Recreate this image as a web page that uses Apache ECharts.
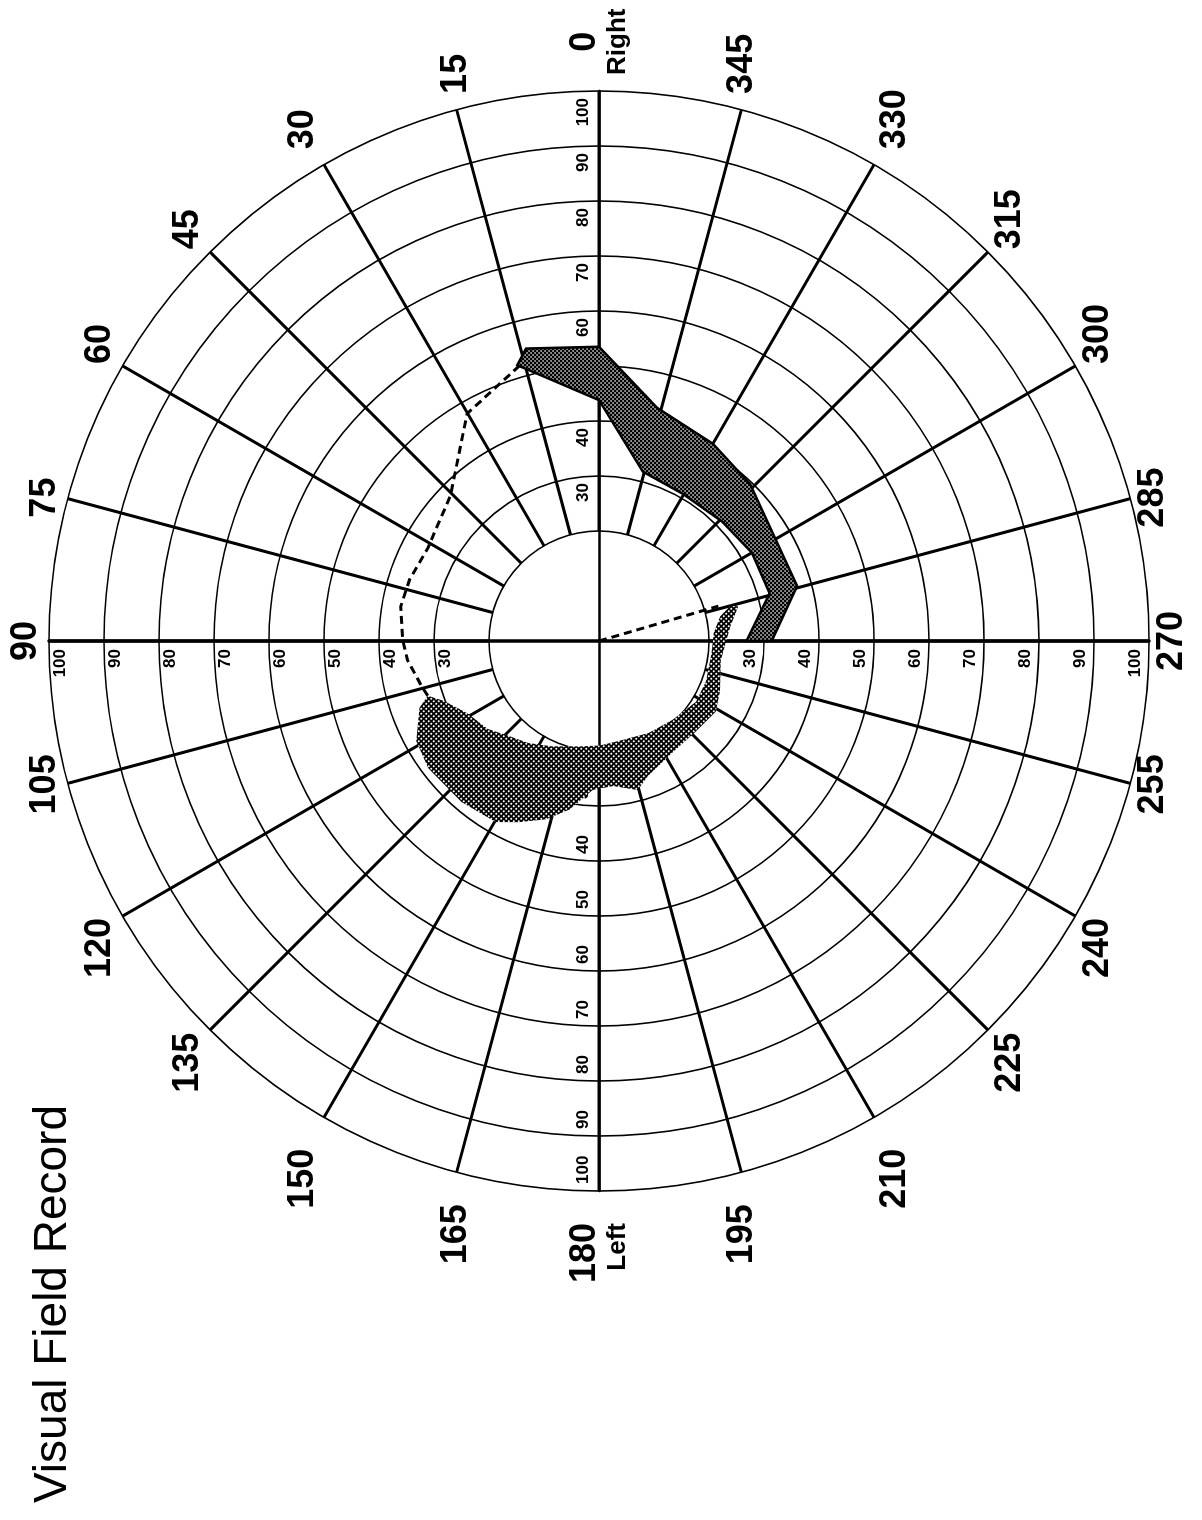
<!DOCTYPE html>
<html>
<head>
<meta charset="utf-8">
<title>Visual Field Record</title>
<script src="https://cdn.jsdelivr.net/npm/echarts@6/dist/echarts.min.js"></script>
<style>
html, body { margin: 0; padding: 0; background: #fff; overflow: hidden; width: 1202px; height: 1520px; }
#chart { position: absolute; left: 0; top: 0; width: 1520px; height: 1202px;
  transform-origin: 0 0; transform: translate(0px, 1520px) rotate(-90deg); }
</style>
</head>
<body>
<div id="chart"></div>
<script>
// ---------------- data ----------------
const titleText = 'Visual Field Record';
// meridians (degrees) and their labels
const angleTicks = [0, 15, 30, 45, 60, 75, 90, 105, 120, 135, 150, 165, 180, 195, 210, 225, 240, 255, 270, 285, 300, 315, 330, 345];
const sideAngles = [0, 180];
const sideNames = ['Right', 'Left'];
// eccentricity rings and labelled rings
const ringValues = [20, 30, 40, 50, 60, 70, 80, 90, 100];
const ringLabels = ['30', '40', '50', '60', '70', '80', '90', '100'];
// directions along which the ring values are printed
const ringLabelAngles = [0, 90, 180, 270];

// points are [angle (deg), eccentricity]
const darkBandOuter = [[14, 54.8], [0, 53.5], [346, 43.7], [330, 41.4], [316, 39.6], [285.5, 37.4], [270, 31.4]];
const darkBandInner = [[270, 26.8], [285.6, 32.2], [300, 32.1], [314, 31.2], [330.5, 30.8], [345.5, 31.8], [0, 43.8], [15, 51.2], [16.5, 52.3]];

const lightBandOuter = [[284.0, 26.1], [276.2, 24.0], [260.9, 22.4], [247.5, 23.8], [238.8, 24.8], [226.6, 24.1], [213.1, 24.3],
  [200.0, 26.1], [194.6, 28.0], [185.6, 26.5], [177.6, 27.1], [170.1, 31.1], [163.5, 33.8], [156.2, 36.0], [150.3, 37.9],
  [139.5, 38.5], [126.7, 38.7], [118.7, 37.9], [110.4, 34.8], [107.7, 32.7]];
const lightBandInner = [[111.2, 30.2], [118.8, 27.3], [128.3, 25.8], [136.0, 23.9], [145.1, 22.6], [155.7, 21.0], [169.4, 19.5],
  [180.6, 19.0], [192.3, 18.5], [208.3, 19.0], [223.0, 19.6], [237.9, 20.8], [249.4, 20.8], [263.7, 20.6], [274.1, 20.9],
  [281.5, 22.5], [284.9, 24.7]];

const dashedUpper = [[16.1, 52.1], [30.1, 47.8], [45.6, 37.8], [61.7, 35.4], [71.9, 36.2], [80.2, 36.6], [89.7, 35.7], [95.7, 35.0], [104.8, 33.2], [107.7, 32.7]];
const dashedCentral = [[286.3, 0], [286.3, 22.6]];

// ---------------- chart ----------------
const FONT = '"Liberation Sans", Arial, Helvetica, sans-serif';
const CENTER = [879, 599];
const R = 550;

function makePattern(bg, dot, size, r) {
  const c = document.createElement('canvas');
  c.width = size; c.height = size;
  const g = c.getContext('2d');
  g.fillStyle = bg; g.fillRect(0, 0, size, size);
  g.fillStyle = dot;
  [[size / 4, size / 4], [3 * size / 4, 3 * size / 4]].forEach(function (p) {
    g.beginPath(); g.arc(p[0], p[1], r, 0, Math.PI * 2); g.fill();
  });
  return c;
}
const darkFill = { image: makePattern('#000', '#fff', 4, 0.85), repeat: 'repeat' };
const lightFill = { image: makePattern('#000', '#fff', 5, 1.05), repeat: 'repeat' };

const toRA = function (p) { return [p[1], p[0]]; }; // [radius, angle] for the polar system

function polygonSeries(points, style, z) {
  const data = points.map(toRA);
  return {
    type: 'custom', coordinateSystem: 'polar', polarIndex: 1, silent: true, z: z,
    data: data,
    renderItem: function (params, api) {
      if (params.dataIndex !== 0) return null;
      return { type: 'polygon', shape: { points: data.map(function (d) { return api.coord(d); }) }, style: style };
    }
  };
}

const ringLabelStyles = [
  { margin: 7, align: 'right', verticalAlign: 'bottom', padding: [0, 7, 0, 0] },
  { margin: 8, align: 'right', verticalAlign: 'top', padding: [3, 0, 0, 0] },
  { margin: -7, align: 'left', verticalAlign: 'bottom', padding: [0, 0, 0, 7] },
  { margin: -8, align: 'right', verticalAlign: 'bottom', padding: [0, 0, 5, 0] }
];
const crossWidths = [2.5, 3.5, 2.5, 3.5];

function sideKey(v) {
  const c = Math.cos(v * Math.PI / 180);
  return c > 0.85 ? 'r' : (c < -0.85 ? 'l' : '');
}
const numStyle = { fontSize: 36, fontWeight: 'bold', fontFamily: FONT, color: '#000', lineHeight: 38, align: 'center' };
const subStyle = { fontSize: 26, fontWeight: 'bold', fontFamily: FONT, color: '#000', lineHeight: 28 };

const polar = [{ center: CENTER, radius: [ringValues[0] / 100 * R, R] }];
const angleAxis = [{
  polarIndex: 0, type: 'value', min: 0, max: 360, interval: 15, startAngle: 0, clockwise: false,
  axisLine: { show: false }, axisTick: { show: false },
  splitLine: { show: true, lineStyle: { color: '#000', width: 3 } },
  axisLabel: {
    show: true, margin: 4, color: '#000',
    formatter: function (v) {
      if (angleTicks.indexOf(v) < 0) return '';
      const k = sideKey(v);
      const i = sideAngles.indexOf(v);
      return i >= 0 ? '{n' + k + '|' + v + '}\n{s' + k + '|' + sideNames[i] + '}' : '{n' + k + '|' + v + '}';
    },
    rich: {
      n: numStyle,
      nr: Object.assign({}, numStyle, { padding: [0, 0, 0, 12] }),
      nl: Object.assign({}, numStyle, { padding: [0, 28, 0, 0] }),
      s: subStyle,
      sr: Object.assign({}, subStyle, { padding: [0, 0, 0, 12] }),
      sl: Object.assign({}, subStyle, { padding: [0, 28, 0, 0] })
    }
  }
}];
const radiusAxis = [{
  polarIndex: 0, type: 'value', min: ringValues[0], max: 100, interval: 10,
  axisLine: { show: false }, axisTick: { show: false }, axisLabel: { show: false },
  splitLine: { show: true, lineStyle: { color: '#000', width: 1.6 } }
}];
ringLabelAngles.forEach(function (a, k) {
  polar.push({ center: CENTER, radius: [0, R] });
  angleAxis.push({ polarIndex: k + 1, type: 'value', min: 0, max: 360, startAngle: a, clockwise: false, show: false });
  const st = ringLabelStyles[k];
  radiusAxis.push({
    polarIndex: k + 1, type: 'value', min: 0, max: 100, interval: 10,
    axisLine: { show: true, lineStyle: { color: '#000', width: crossWidths[k] } },
    axisTick: { show: false }, splitLine: { show: false },
    axisLabel: {
      show: true, color: '#000', fontSize: 17, fontWeight: 'bold', fontFamily: FONT,
      margin: st.margin, align: st.align, verticalAlign: st.verticalAlign, padding: st.padding,
      formatter: function (v) { return ringLabels.indexOf(String(v)) >= 0 ? String(v) : ''; }
    }
  });
});

const option = {
  animation: false,
  backgroundColor: '#fff',
  title: { text: titleText, left: 17, top: 30, padding: 0,
    textStyle: { fontSize: 46, fontWeight: 'normal', fontFamily: FONT, color: '#000' } },
  polar: polar,
  angleAxis: angleAxis,
  radiusAxis: radiusAxis,
  series: [
    polygonSeries(lightBandOuter.concat(lightBandInner), { fill: lightFill, stroke: null }, 3),
    polygonSeries(darkBandOuter.concat(darkBandInner), { fill: darkFill, stroke: '#000', lineWidth: 2.5, lineJoin: 'miter' }, 4),
    { type: 'line', coordinateSystem: 'polar', polarIndex: 1, data: dashedUpper.map(toRA), symbol: 'none', clip: false, silent: true, z: 5,
      lineStyle: { color: '#000', width: 3, type: [8, 5] } },
    { type: 'line', coordinateSystem: 'polar', polarIndex: 1, data: dashedCentral.map(toRA), symbol: 'none', clip: false, silent: true, z: 5,
      lineStyle: { color: '#000', width: 3, type: [8, 5] } }
  ]
};

const chart = echarts.init(document.getElementById('chart'), null, { renderer: 'canvas' });
chart.setOption(option);
</script>
</body>
</html>
